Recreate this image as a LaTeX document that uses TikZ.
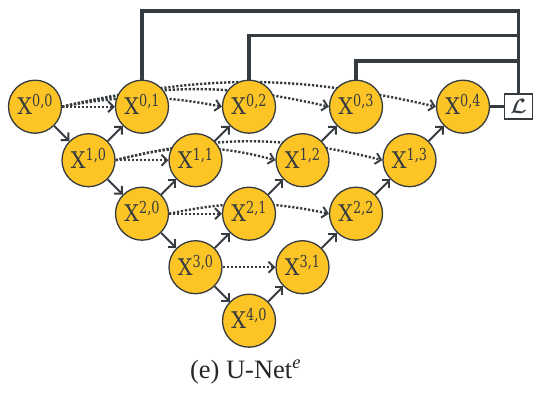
\documentclass[tikz,border=0pt]{standalone}
\usepackage{fontspec}
\usepackage{bm}
\usetikzlibrary{arrows.meta,backgrounds}
\newfontfamily\nodefont[FakeStretch=0.9]{DejaVu Serif}
\newfontfamily\supfont[FakeStretch=0.78]{DejaVu Serif}
\newfontfamily\capfont{Liberation Serif}
\definecolor{nodefill}{HTML}{FDC425}
\definecolor{ink}{HTML}{363B40}
\newcommand{\xlab}[2]{\raisebox{0pt}[\height][4pt]{{\fontsize{23}{23}\selectfont\nodefont X}\raisebox{8pt}{\fontsize{16.5}{16.5}\selectfont\supfont #1,#2}}}
\begin{document}
\begin{tikzpicture}[x=1pt,y=-1pt,
  unode/.style={circle, draw=ink, fill=nodefill, line width=1.3pt, minimum size=53pt, inner sep=0pt, text=ink},
  uparrow/.style={draw=ink, line width=1.9pt, -{Straight Barb[length=5.5pt,width=11pt]}},
  skiparrow/.style={draw=ink, line width=2.4pt, dash pattern=on 2.2pt off 1.8pt, -{Straight Barb[length=5.5pt,width=11pt,line width=1.9pt]}},
  deepline/.style={draw=ink, line width=3.3pt},
  lossbox/.style={draw=ink, fill=white, line width=1.5pt, minimum width=28pt, minimum height=25pt, inner sep=0pt, text=ink}]
\useasboundingbox (0,0) rectangle (541,404);
% nodes
\node[unode] (X00) at (35,106.7) {\xlab00};
\node[unode] (X01) at (142,106.7) {\xlab01};
\node[unode] (X02) at (249,106.7) {\xlab02};
\node[unode] (X03) at (356,106.7) {\xlab03};
\node[unode] (X04) at (463,106.7) {\xlab04};
\node[unode] (X10) at (88.5,160.2) {\xlab10};
\node[unode] (X11) at (195.5,160.2) {\xlab11};
\node[unode] (X12) at (302.5,160.2) {\xlab12};
\node[unode] (X13) at (409.5,160.2) {\xlab13};
\node[unode] (X20) at (142,213.7) {\xlab20};
\node[unode] (X21) at (249,213.7) {\xlab21};
\node[unode] (X22) at (356,213.7) {\xlab22};
\node[unode] (X30) at (195.5,267.2) {\xlab30};
\node[unode] (X31) at (302.5,267.2) {\xlab31};
\node[unode] (X40) at (249,320.7) {\xlab40};
\node[lossbox] (L) at (518.5,106.7) {\fontsize{20}{20}\selectfont$\bm{\mathcal{L}}$};
% skip connections behind nodes
\begin{pgfonlayer}{background}
\draw[skiparrow] (X00.east) -- (X01.west);
\draw[skiparrow] (X00.east) to[bend left=11] (X02.west);
\draw[skiparrow] (X00.east) to[bend left=13] (X03.west);
\draw[skiparrow] (X00.east) to[bend left=13] (X04.west);
\draw[skiparrow] (X10.east) -- (X11.west);
\draw[skiparrow] (X10.east) to[bend left=15] (X12.west);
\draw[skiparrow] (X10.east) to[bend left=14] (X13.west);
\draw[skiparrow] (X20.east) -- (X21.west);
\draw[skiparrow] (X20.east) to[bend left=12] (X22.west);
\draw[skiparrow] (X30.east) -- (X31.west);
\end{pgfonlayer}
% down and up arrows
\draw[uparrow] (X00) -- (X10);
\draw[uparrow] (X10) -- (X20);
\draw[uparrow] (X20) -- (X30);
\draw[uparrow] (X30) -- (X40);
\draw[uparrow] (X10) -- (X01);
\draw[uparrow] (X20) -- (X11);
\draw[uparrow] (X11) -- (X02);
\draw[uparrow] (X30) -- (X21);
\draw[uparrow] (X21) -- (X12);
\draw[uparrow] (X12) -- (X03);
\draw[uparrow] (X40) -- (X31);
\draw[uparrow] (X31) -- (X22);
\draw[uparrow] (X22) -- (X13);
\draw[uparrow] (X13) -- (X04);
% deep supervision
\coordinate (top1) at (518.5,11);
\coordinate (top2) at (518.5,35.5);
\coordinate (top3) at (518.5,61);
\draw[deepline] (X01.north) |- (top1) -- (L.north);
\draw[deepline] (X02.north) |- (top2);
\draw[deepline] (X03.north) |- (top3);
\draw[deepline] (X04) -- (L);
% caption
\node[anchor=base, font=\capfont\fontsize{26.5}{30}\selectfont, text=black!85] (cap) at (245.5,378) {(e) U-Net\textsuperscript{\textit{e}}};
\end{tikzpicture}
\end{document}
